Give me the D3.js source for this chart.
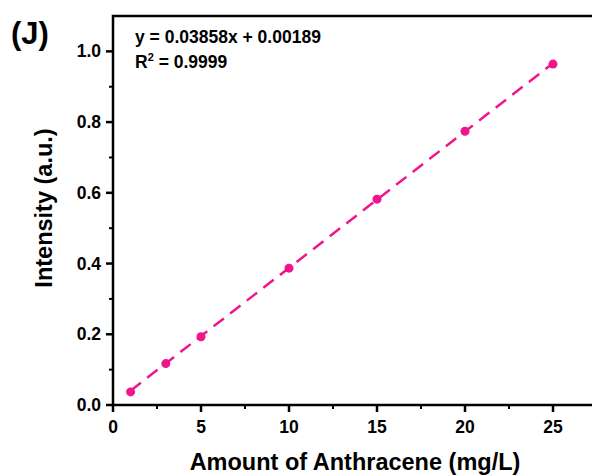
<!doctype html>
<html>
<head>
<meta charset="utf-8">
<script src="https://cdn.jsdelivr.net/npm/d3@7"></script>
<style>
  body { margin: 0; background: #fff; }
  svg { font-family: "Liberation Sans", Arial, sans-serif; }
</style>
</head>
<body>
<svg id="chart" width="592" height="475"></svg>
<script>
// data
const conc = [1, 3, 5, 10, 15, 20, 25];
const intensity = [0.037, 0.117, 0.193, 0.387, 0.582, 0.774, 0.964];
const slope = 0.03858, intercept = 0.00189;
const xTicks = [0, 5, 10, 15, 20, 25];
const yTicks = [0, 0.2, 0.4, 0.6, 0.8, 1.0];

(function () {
const svg = d3.select("#chart");
const plotL = 113, plotB = 405, plotT = 16, plotR = 600;
const pink = "#f0158c";

const x = d3.scaleLinear().domain([0, 25]).range([plotL, 553]);
const y = d3.scaleLinear().domain([0, 1.1]).range([plotB, plotT]);

// frame (right side falls outside the picture)
svg.append("path")
    .attr("d", `M${plotL},${plotB} V${plotT} H${plotR}`)
    .attr("fill", "none").attr("stroke", "#000").attr("stroke-width", 2.5);
svg.append("line")
    .attr("x1", plotL - 1).attr("x2", plotR).attr("y1", plotB).attr("y2", plotB)
    .attr("stroke", "#000").attr("stroke-width", 2.5);

// x ticks
const xMinor = d3.range(2.5, 28, 5);
svg.append("g").selectAll("line").data(xTicks).join("line")
    .attr("x1", d => x(d)).attr("x2", d => x(d))
    .attr("y1", plotB).attr("y2", plotB + 7)
    .attr("stroke", "#000").attr("stroke-width", 2.5);
svg.append("g").selectAll("line").data(xMinor).join("line")
    .attr("x1", d => x(d)).attr("x2", d => x(d))
    .attr("y1", plotB).attr("y2", plotB + 4)
    .attr("stroke", "#000").attr("stroke-width", 2);
svg.append("g").selectAll("text").data(xTicks).join("text")
    .attr("x", d => x(d)).attr("y", plotB + 28)
    .attr("text-anchor", "middle")
    .attr("font-size", 17.5).attr("font-weight", "bold")
    .text(d => d);

// y ticks
const yMinor = d3.range(0.1, 1.1, 0.2);
svg.append("g").selectAll("line").data(yTicks).join("line")
    .attr("x1", plotL - 7).attr("x2", plotL)
    .attr("y1", d => y(d)).attr("y2", d => y(d))
    .attr("stroke", "#000").attr("stroke-width", 2.5);
svg.append("g").selectAll("line").data(yMinor).join("line")
    .attr("x1", plotL - 4).attr("x2", plotL)
    .attr("y1", d => y(d)).attr("y2", d => y(d))
    .attr("stroke", "#000").attr("stroke-width", 2);
svg.append("g").selectAll("text").data(yTicks).join("text")
    .attr("x", plotL - 12).attr("y", d => y(d) + 6)
    .attr("text-anchor", "end")
    .attr("font-size", 17.5).attr("font-weight", "bold")
    .text(d => d3.format(".1f")(d));

// axis titles
svg.append("text")
    .attr("x", 355).attr("y", 470)
    .attr("text-anchor", "middle")
    .attr("font-size", 23.5).attr("font-weight", "bold")
    .text("Amount of Anthracene (mg/L)");
svg.append("text")
    .attr("transform", `translate(52, 208) rotate(-90)`)
    .attr("text-anchor", "middle")
    .attr("font-size", 23.5).attr("font-weight", "bold")
    .text("Intensity (a.u.)");

// panel label
svg.append("text")
    .attr("x", 11).attr("y", 44)
    .attr("font-size", 31).attr("font-weight", "bold")
    .text("(J)");

// fit equation
svg.append("text")
    .attr("x", 135).attr("y", 43)
    .attr("font-size", 17.5).attr("font-weight", "bold")
    .text("y = 0.03858x + 0.00189");
const r2 = svg.append("text")
    .attr("x", 135).attr("y", 68)
    .attr("font-size", 17.5).attr("font-weight", "bold");
r2.append("tspan").text("R");
r2.append("tspan").attr("font-size", 11).attr("dy", -7).text("2");
r2.append("tspan").attr("dy", 7).text(" = 0.9999");

// fitted line
svg.append("line")
    .attr("x1", x(1)).attr("y1", y(slope * 1 + intercept))
    .attr("x2", x(25)).attr("y2", y(slope * 25 + intercept))
    .attr("stroke", pink).attr("stroke-width", 2.5)
    .attr("stroke-dasharray", "13 8");

// points
svg.append("g").selectAll("circle").data(conc).join("circle")
    .attr("cx", d => x(d)).attr("cy", (d, i) => y(intensity[i]))
    .attr("r", 4.5).attr("fill", pink);
})();
</script>
</body>
</html>
